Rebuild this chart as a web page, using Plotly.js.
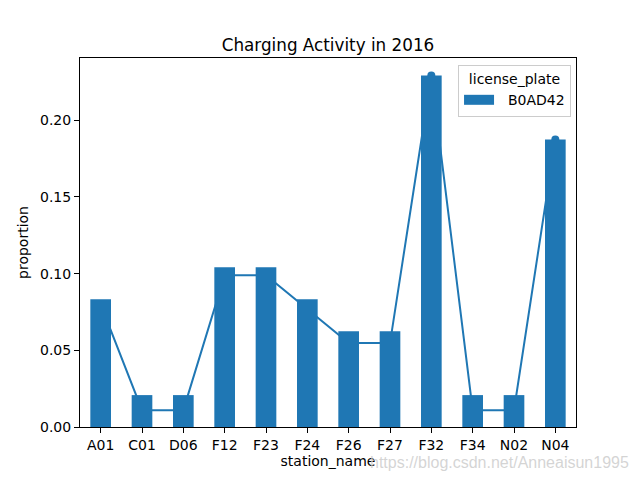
<!DOCTYPE html>
<html>
<head>
<meta charset="utf-8">
<script src="https://cdn.plot.ly/plotly-3.0.1.min.js"></script>
<style>html,body{margin:0;padding:0;background:#fff;}#chart{width:640px;height:480px;}</style>
</head>
<body>
<div id="chart"></div>
<script>
const stations = ["A01","C01","D06","F12","F23","F24","F26","F27","F32","F34","N02","N04"];
const barValues = [0.0833,0.0208,0.0208,0.1042,0.1042,0.0833,0.0625,0.0625,0.2292,0.0208,0.0208,0.1875];
const lineValues = [0.080,0.011,0.011,0.099,0.099,0.077,0.0547,0.0547,0.2292,0.011,0.011,0.1875];
const yTicks = [0,0.05,0.10,0.15,0.20];
const seriesName = "B0AD42";

const font = "DejaVu Sans, sans-serif";
const xr = [-0.5, 11.5];
const yr = [0, 0.2406];

const lineTrace = {
  type: "scatter", mode: "lines+markers",
  x: stations, y: lineValues,
  xaxis: "x", yaxis: "y",
  line: {color: "#1f77b4", width: 2},
  marker: {color: "#1f77b4", size: 8},
  showlegend: false, hoverinfo: "skip"
};
const barTrace = {
  type: "bar", x: stations, y: barValues,
  xaxis: "x2", yaxis: "y2",
  name: seriesName, width: 0.5, showlegend: false,
  marker: {color: "#1f77b4", line: {width: 0}}
};
// legend-only entry drawn as a wide patch like matplotlib's
const legendTrace = {
  type: "scatter", mode: "lines", x: [null], y: [null],
  xaxis: "x2", yaxis: "y2",
  name: "\u00a0\u00a0" + seriesName, line: {color: "#1f77b4", width: 10}, hoverinfo: "skip"
};

const axBase = {
  showgrid: false, zeroline: false, showline: true, linecolor: "#000", linewidth: 1,
  mirror: true, ticks: "outside", ticklen: 5, tickwidth: 1, tickcolor: "#000",
  tickfont: {family: font, size: 14, color: "#000"}
};

const layout = {
  width: 640, height: 480,
  margin: {l: 80, r: 64, t: 58, b: 53},
  paper_bgcolor: "#fff", plot_bgcolor: "rgba(0,0,0,0)",
  title: {text: "Charging Activity in 2016", font: {family: font, size: 16.8, color: "#000"},
          x: 0.5, xref: "paper", y: 1, yref: "paper", yanchor: "bottom", pad: {b: 7}},
  xaxis: Object.assign({}, axBase, {type: "category", range: xr, categoryarray: stations, categoryorder: "array",
          title: {text: "station_name", font: {family: font, size: 14, color: "#000"}, standoff: 4}}),
  yaxis: Object.assign({}, axBase, {range: yr, tickvals: yTicks, tickformat: ".2f",
          title: {text: "proportion", font: {family: font, size: 14, color: "#000"}, standoff: 8}}),
  xaxis2: {overlaying: "x", type: "category", range: xr, categoryarray: stations, categoryorder: "array",
           visible: false, showgrid: false, zeroline: false},
  yaxis2: {overlaying: "y", range: yr, visible: false, showgrid: false, zeroline: false},
  legend: {
    x: 0.99, y: 0.981, xanchor: "right", yanchor: "top",
    bgcolor: "rgba(255,255,255,0.8)", bordercolor: "#cccccc", borderwidth: 1,
    font: {family: font, size: 14, color: "#000"},
    title: {text: "license_plate", font: {family: font, size: 14, color: "#000"}, side: "top center"},
    itemwidth: 30
  },
  annotations: [{
    text: "https://blog.csdn.net/Anneaisun1995", xref: "paper", yref: "paper",
    x: 1.11, y: -0.095, xanchor: "right", yanchor: "middle", showarrow: false,
    font: {family: "Liberation Sans, Arial, sans-serif", size: 16, color: "rgba(205,205,205,0.85)"}
  }]
};

Plotly.newPlot("chart", [lineTrace, barTrace, legendTrace], layout, {displayModeBar: false, staticPlot: true});
</script>
</body>
</html>
